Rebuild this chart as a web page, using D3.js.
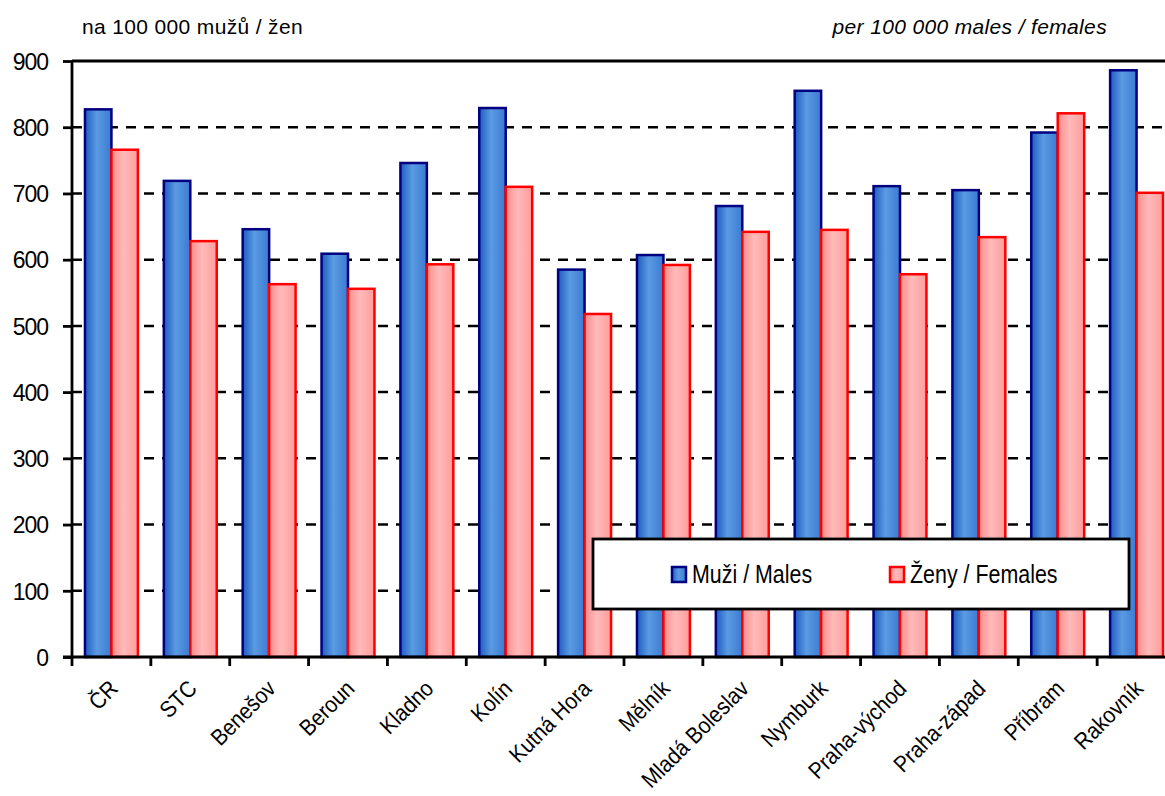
<!DOCTYPE html>
<html>
<head>
<meta charset="utf-8">
<script src="https://cdn.jsdelivr.net/npm/d3@7"></script>
<style>
  body { margin: 0; background: #fff; }
  text { font-family: "Liberation Sans", Arial, sans-serif; fill: #000; }
</style>
</head>
<body>
<div id="chart"></div>
<script>
// data
var categories = ["ČR", "STC", "Benešov", "Beroun", "Kladno", "Kolín", "Kutná Hora",
  "Mělník", "Mladá Boleslav", "Nymburk", "Praha-východ", "Praha-západ", "Příbram", "Rakovník"];
var males = [827, 719, 646, 609, 746, 829, 585, 607, 681, 855, 711, 705, 792, 886];
var females = [766, 628, 563, 556, 593, 710, 518, 592, 642, 645, 578, 634, 821, 701];
var yTicks = [0, 100, 200, 300, 400, 500, 600, 700, 800, 900];
var seriesNames = ["Muži / Males", "Ženy / Females"];

var width = 1165, height = 796;
// plot area runs past the right edge of the picture (it is cut off there)
var margin = { top: 61, left: 72, bottom: 139 };
var plotRight = 1176;

var svg = d3.select("#chart").append("svg")
  .attr("width", width)
  .attr("height", height);

var defs = svg.append("defs");
function gradient(id, stops) {
  var g = defs.append("linearGradient").attr("id", id)
    .attr("x1", "0%").attr("x2", "100%").attr("y1", "0%").attr("y2", "0%");
  stops.forEach(function (s) {
    g.append("stop").attr("offset", s[0]).attr("stop-color", s[1]);
  });
}
gradient("blueGrad", [["0%", "#1f5cc0"], ["45%", "#5a9be2"], ["100%", "#3b7ad2"]]);
gradient("redGrad", [["0%", "#ff8a8a"], ["45%", "#ffbaba"], ["100%", "#ff9c9c"]]);

var x = d3.scaleBand()
  .domain(categories)
  .range([margin.left, plotRight])
  .paddingInner(0)
  .paddingOuter(0);

// two bars per category, gap between groups about one bar wide
var inner = d3.scaleBand()
  .domain([0, 1])
  .range([0, x.bandwidth()])
  .paddingOuter(0.49)
  .paddingInner(0);

var y = d3.scaleLinear()
  .domain([0, 900])
  .range([height - margin.bottom, margin.top]);

// gridlines
svg.append("g")
  .selectAll("line")
  .data(yTicks.filter(function (d) { return d > 0; }))
  .enter()
  .append("line")
  .attr("x1", margin.left)
  .attr("x2", plotRight)
  .attr("y1", function (d) { return y(d); })
  .attr("y2", function (d) { return y(d); })
  .attr("stroke", "#000")
  .attr("stroke-width", function (d) { return d === 900 ? 2.8 : 2.5; })
  .attr("stroke-dasharray", function (d) { return d === 900 ? null : "10,8"; });

// bars
var groups = svg.append("g")
  .selectAll("g")
  .data(categories)
  .enter()
  .append("g")
  .attr("transform", function (d) { return "translate(" + x(d) + ",0)"; });

groups.append("rect")
  .attr("x", inner(0))
  .attr("width", inner.bandwidth())
  .attr("y", function (d, i) { return y(males[i]); })
  .attr("height", function (d, i) { return y(0) - y(males[i]); })
  .attr("fill", "url(#blueGrad)")
  .attr("stroke", "#000080")
  .attr("stroke-width", 2.5);

groups.append("rect")
  .attr("x", inner(1))
  .attr("width", inner.bandwidth())
  .attr("y", function (d, i) { return y(females[i]); })
  .attr("height", function (d, i) { return y(0) - y(females[i]); })
  .attr("fill", "url(#redGrad)")
  .attr("stroke", "#ff0000")
  .attr("stroke-width", 2.5);

// y axis
var yAxis = svg.append("g")
  .attr("transform", "translate(" + margin.left + ",0)")
  .call(d3.axisLeft(y).tickValues(yTicks).tickSize(9).tickPadding(15).tickFormat(d3.format("d")));
yAxis.select(".domain").attr("stroke-width", 2.8).attr("d", "M0," + y(900) + "V" + y(0));
yAxis.selectAll(".tick line").attr("stroke-width", 2.8);
yAxis.selectAll(".tick text")
  .style("font-size", "23px")
  .style("letter-spacing", "-1px")
  .attr("dy", "0.36em");

// x axis
var xAxis = svg.append("g")
  .attr("transform", "translate(0," + y(0) + ")");
xAxis.append("line")
  .attr("x1", margin.left - 9).attr("x2", plotRight)
  .attr("stroke", "#000").attr("stroke-width", 2.8);
xAxis.selectAll(".xtick")
  .data(categories)
  .enter()
  .append("line")
  .attr("x1", function (d) { return x(d); })
  .attr("x2", function (d) { return x(d); })
  .attr("y1", 0).attr("y2", 9)
  .attr("stroke", "#000").attr("stroke-width", 2.8);
// rotated labels, the font is a little narrower than it is tall
xAxis.selectAll(".xlabel")
  .data(categories)
  .enter()
  .append("text")
  .attr("transform", function (d) {
    return "translate(" + (x(d) + x.bandwidth() / 2 + 8) + ",33) rotate(-45) scale(0.9,1)";
  })
  .attr("text-anchor", "end")
  .style("font-size", "23px")
  .text(function (d) { return d; });

// unit captions
svg.append("text")
  .attr("x", 82).attr("y", 34)
  .style("font-size", "21px")
  .style("letter-spacing", "0.35px")
  .text("na 100 000 mužů / žen");
svg.append("text")
  .attr("x", 1107).attr("y", 34)
  .attr("text-anchor", "end")
  .style("font-size", "21px")
  .style("letter-spacing", "0.35px")
  .style("font-style", "italic")
  .text("per 100 000 males / females");

// legend
var legend = svg.append("g").attr("transform", "translate(593,539)");
legend.append("rect")
  .attr("width", 536).attr("height", 70)
  .attr("fill", "#fff").attr("stroke", "#000").attr("stroke-width", 2.8);
var items = legend.selectAll(".item")
  .data(seriesNames)
  .enter()
  .append("g")
  .attr("transform", function (d, i) { return "translate(" + (i === 0 ? 79 : 297) + ",28)"; });
items.append("rect")
  .attr("width", 14).attr("height", 15)
  .attr("fill", function (d, i) { return i === 0 ? "url(#blueGrad)" : "url(#redGrad)"; })
  .attr("stroke", function (d, i) { return i === 0 ? "#000080" : "#ff0000"; })
  .attr("stroke-width", 2.5);
items.append("text")
  .attr("transform", "translate(20,16) scale(0.84,1)")
  .style("font-size", "25.5px")
  .text(function (d) { return d; });
</script>
</body>
</html>
